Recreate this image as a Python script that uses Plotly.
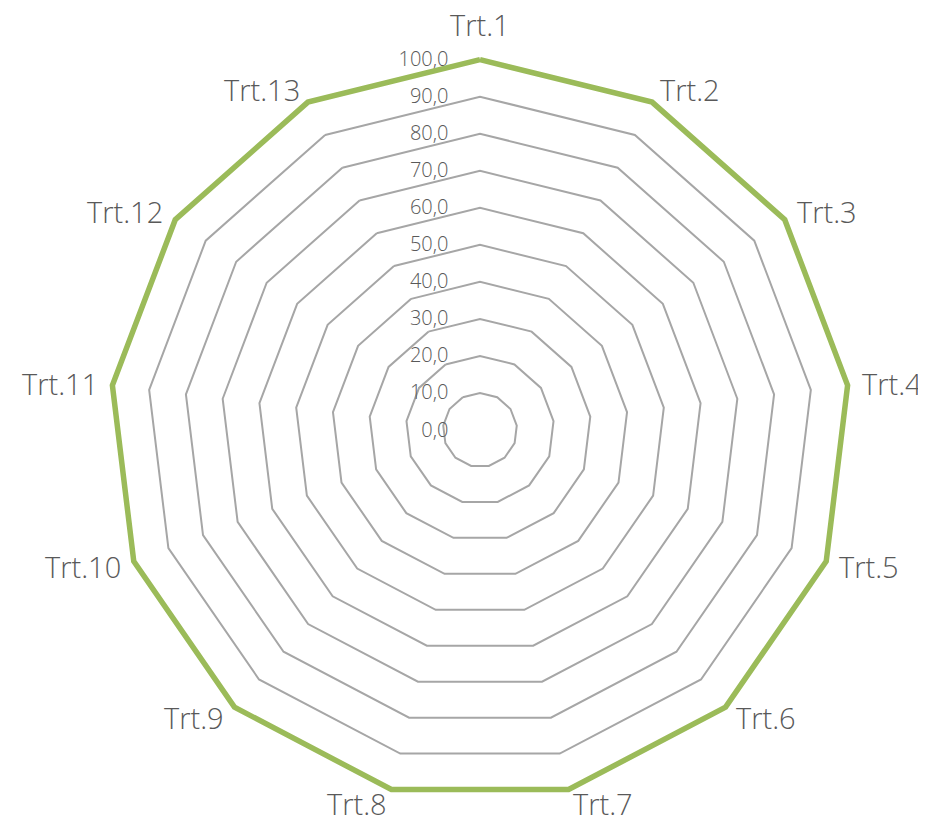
import math
import plotly.graph_objects as go

categories = [f"Trt.{i}" for i in range(1, 14)]
values = [100.0] * 13
radial_ticks = [0, 10, 20, 30, 40, 50, 60, 70, 80, 90, 100]

theta = categories + categories[:1]
r = values + values[:1]

font_family = "Open Sans"
label_color = "#595959"

fig = go.Figure()
fig.add_trace(go.Scatterpolar(
    r=r, theta=theta, mode="lines",
    line=dict(color="#9BBB59", width=5.5),
    cliponaxis=False,
    showlegend=False, hoverinfo="skip",
))

# plot area geometry (px) used to place category labels next to the outer ring
plot_w = 747.4
r_max = 101.0
ring_frac = (plot_w / 2) * (100.0 / r_max) / plot_w  # paper units for r = 100
n = len(categories)
annotations = []
for i, cat in enumerate(categories):
    phi = math.pi / 2 - i * 2 * math.pi / n
    c, s = math.cos(phi), math.sin(phi)
    xanchor = "left" if c > 0.05 else ("right" if c < -0.05 else "center")
    yanchor = "bottom" if i == 0 else "middle"
    annotations.append(dict(
        text=cat, xref="paper", yref="paper",
        x=0.5 + ring_frac * c, y=0.5 + ring_frac * s,
        xanchor=xanchor, yanchor=yanchor,
        xshift=12 * c, yshift=14 * s,
        showarrow=False,
        font=dict(family=font_family, size=29, color=label_color, weight=300),
    ))

fig.update_layout(
    width=926, height=819,
    margin=dict(l=98.3, r=80.3, t=48.3, b=23.3),
    paper_bgcolor="white", plot_bgcolor="white",
    separators=",.",
    annotations=annotations,
    polar=dict(
        bgcolor="white",
        gridshape="linear",
        angularaxis=dict(
            direction="clockwise", rotation=90,
            showgrid=False, showline=False, showticklabels=False,
            ticks="",
            layer="below traces",
        ),
        radialaxis=dict(
            range=[0, r_max], tickvals=radial_ticks, tickformat=".1f",
            angle=90, tickangle=90, side="counterclockwise",
            showline=False,
            ticks="outside", ticklen=24, tickcolor="rgba(0,0,0,0)",
            layer="below traces",
            gridcolor="#A6A6A6", gridwidth=1.5,
            tickfont=dict(family=font_family, size=20, color=label_color, weight=300),
        ),
    ),
)

fig.write_html("out.html")
